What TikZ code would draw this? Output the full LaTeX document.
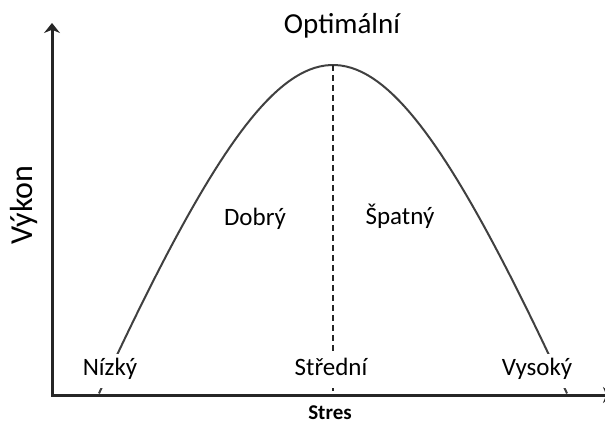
\documentclass[tikz,border=0pt]{standalone}
\usepackage{fontspec}
\setmainfont{Carlito}
\usetikzlibrary{arrows.meta}

\begin{document}
\begin{tikzpicture}[
	x=1pt,y=-1pt,
	axis/.style={line width=3pt,color=black!85,arrows={Stealth[length=10pt,width=16pt]-Stealth[length=10pt,width=16pt]}},
	curve/.style={line width=2pt,color=black!75},
	divider/.style={line width=1.6pt,color=black!85,dash pattern=on 6pt off 4pt},
	level/.style={fill=white,inner xsep=1pt,inner ysep=3.5pt,text depth=9pt,font=\fontsize{25}{30}\selectfont,anchor=base},
	zone/.style={inner sep=0pt,font=\fontsize{25}{30}\selectfont,anchor=base}]
	\useasboundingbox (0,0) rectangle (605,423);
	\coordinate (o)    at (52,395);
	\coordinate (ytip) at (52,23);
	\coordinate (xtip) at (613,395);
	\coordinate (top)  at (333,65);
	\coordinate (mid)  at (333,395);
	\draw[curve] plot[domain=-234:234,samples=90] ({333+\x},{65+385*(sqrt(1+(\x/150)^2)-1)});
	\draw[divider] (top) -- (mid);
	\draw[axis] (ytip) -- (o) -- (xtip);
	\node[level] (low)  at (110,375) {Nízký};
	\node[level] (mean) at (331,375) {Střední};
	\node[level] (high) at (537,375) {Vysoký};
	\node[zone] (good) at (255,225) {Dobrý};
	\node[zone] (bad)  at (400,224) {Špatný};
	\node[zone,font=\fontsize{29}{34}\selectfont] (opt) at (342,33) {Optimální};
	\node[zone,font=\bfseries\fontsize{21}{24}\selectfont] (stres) at (330,419) {Stres};
	\node[zone,rotate=90,font=\fontsize{32}{36}\selectfont] (vykon) at (32,205) {Výkon};
\end{tikzpicture}
\end{document}
